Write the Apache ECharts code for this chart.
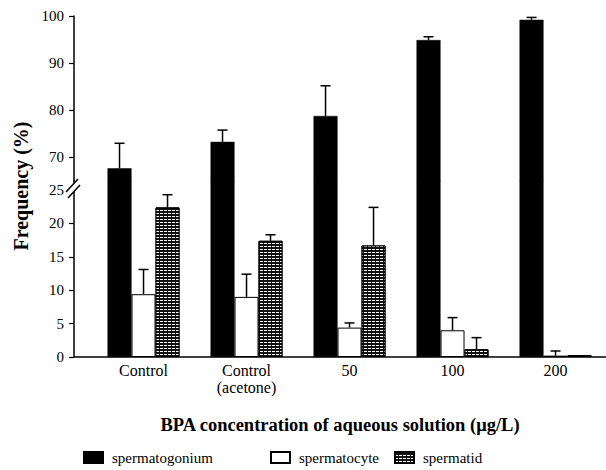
<!DOCTYPE html>
<html>
<head>
<meta charset="utf-8">
<script src="https://cdn.jsdelivr.net/npm/echarts@6/dist/echarts.min.js"></script>
<style>
html,body{margin:0;padding:0;background:#fff;}
#chart{width:606px;height:470px;}
</style>
</head>
<body>
<div id="chart"></div>
<script>
// ---- data ----
const categories = ['Control', 'Control\n(acetone)', '50', '100', '200'];
const seriesNames = ['spermatogonium', 'spermatocyte', 'spermatid'];
const spermatogonium = [67.7, 73.3, 78.8, 94.9, 99.2];
const spermatogoniumErr = [5.3, 2.5, 6.4, 0.7, 0.5];
const spermatocyte = [9.4, 9.0, 4.4, 4.0, 0.2];
const spermatocyteErr = [3.7, 3.4, 0.7, 1.9, 0.7];
const spermatid = [22.4, 17.4, 16.7, 1.15, 0.3];
const spermatidErr = [1.9, 0.9, 5.7, 1.75, 0];
const yTicksUpper = [70, 80, 90, 100];
const yTicksLower = [0, 5, 10, 15, 20, 25];
const xTitle = 'BPA concentration of aqueous solution (\u03bcg/L)';
const yTitle = 'Frequency (%)';

// ---- layout constants ----
const FONT = 'Liberation Serif, Times New Roman, serif';
const BAR_W = 24;
const X_MIN = -0.675, X_MAX = 4.49;
const UPPER_MIN = 65, UPPER_MAX = 100;
const LOWER_MIN = 0, LOWER_MAX = 26.35;

const chart = echarts.init(document.getElementById('chart'), null, {renderer: 'svg'});

const idx = categories.map((c, i) => i);
const pairs = arr => arr.map((v, i) => [i, v]);
const triples = (arr, err) => arr.map((v, i) => [i, v, err[i]]);

function errRender(offset) {
  return function (params, api) {
    const x = api.value(0), v = api.value(1), e = api.value(2);
    if (!e) return null;
    const p0 = api.coord([x, v]);
    const p1 = api.coord([x, v + e]);
    const cx = p0[0] + offset;
    const st = {stroke: '#000', lineWidth: 1.5};
    return {
      type: 'group',
      children: [
        {type: 'line', shape: {x1: cx, y1: p0[1], x2: cx, y2: p1[1]}, style: st},
        {type: 'line', shape: {x1: cx - 5, y1: p1[1], x2: cx + 5, y2: p1[1]}, style: st}
      ]
    };
  };
}

const blackStyle = {color: '#000', borderColor: '#000', borderWidth: 0.5};
const whiteStyle = {color: '#fff', borderColor: '#000', borderWidth: 1};
const stripeStyle = {
  color: '#111', borderColor: '#000', borderWidth: 1,
  decal: {symbol: 'rect', color: '#ffffff', dashArrayX: [[3, 1]], dashArrayY: [1, 2], symbolSize: 1, rotation: 0}
};

const labelStyle = {color: '#000', fontFamily: FONT, fontSize: 15};

const xAxisBase = {
  type: 'value', min: X_MIN, max: X_MAX,
  splitLine: {show: false}
};

const option = {
  animation: false,
  backgroundColor: '#fff',
  textStyle: {fontFamily: FONT},
  grid: [
    {left: 74, right: 0, top: 181, height: 176},   // lower (0-25)
    {left: 74, right: 0, top: 16, height: 165}     // upper (65-100)
  ],
  xAxis: [
    Object.assign({}, xAxisBase, {
      gridIndex: 0,
      axisLine: {show: true, onZero: false, lineStyle: {color: '#000', width: 1.5}},
      axisTick: {show: false},
      axisLabel: {
        customValues: idx,
        formatter: v => categories[Math.round(v)],
        color: '#000', fontFamily: FONT, fontSize: 16, lineHeight: 17, margin: 5
      },
      name: xTitle,
      nameLocation: 'middle',
      nameGap: 58,
      nameTextStyle: {color: '#000', fontFamily: FONT, fontSize: 18.5, fontWeight: 'bold'}
    }),
    Object.assign({}, xAxisBase, {
      gridIndex: 1, show: false, axisLine: {onZero: false}
    })
  ],
  yAxis: [
    {
      type: 'value', gridIndex: 0, min: LOWER_MIN, max: LOWER_MAX,
      splitLine: {show: false},
      axisLine: {show: true, onZero: false, lineStyle: {color: '#000', width: 1.5}},
      axisTick: {show: true, customValues: yTicksLower, length: 5, lineStyle: {color: '#000', width: 1.2}},
      axisLabel: Object.assign({customValues: yTicksLower, margin: 10}, labelStyle)
    },
    {
      type: 'value', gridIndex: 1, min: UPPER_MIN, max: UPPER_MAX,
      splitLine: {show: false},
      axisLine: {show: true, onZero: false, lineStyle: {color: '#000', width: 1.5}},
      axisTick: {show: true, customValues: yTicksUpper, length: 5, lineStyle: {color: '#000', width: 1.2}},
      axisLabel: Object.assign({customValues: yTicksUpper, margin: 10}, labelStyle)
    }
  ],
  legend: [
    {data: [seriesNames[0]], left: 83, top: 450},
    {data: [seriesNames[1]], left: 270, top: 450},
    {data: [seriesNames[2]], left: 394, top: 450}
  ].map(l => Object.assign(l, {
    icon: 'rect', itemWidth: 19, itemHeight: 11, itemGap: 0, padding: 0,
    textStyle: {color: '#000', fontFamily: FONT, fontSize: 15, padding: [0, 0, 0, 4]},
    selectedMode: false
  })),
  series: [
    // lower grid bars
    {type: 'bar', name: seriesNames[0], xAxisIndex: 0, yAxisIndex: 0, data: pairs(spermatogonium),
      barWidth: BAR_W, barGap: '0%', clip: true, itemStyle: blackStyle},
    {type: 'bar', name: seriesNames[1], xAxisIndex: 0, yAxisIndex: 0, data: pairs(spermatocyte),
      barWidth: BAR_W, barGap: '0%', clip: true, itemStyle: whiteStyle},
    {type: 'bar', name: seriesNames[2], xAxisIndex: 0, yAxisIndex: 0, data: pairs(spermatid),
      barWidth: BAR_W, barGap: '0%', clip: true, itemStyle: stripeStyle},
    // upper grid bars (spermatogonium continues above the break)
    {type: 'bar', name: seriesNames[0], xAxisIndex: 1, yAxisIndex: 1, data: pairs(spermatogonium),
      barWidth: BAR_W, barGap: '0%', clip: true, itemStyle: blackStyle},
    {type: 'bar', name: '_pad1', xAxisIndex: 1, yAxisIndex: 1, data: [], barWidth: BAR_W, barGap: '0%'},
    {type: 'bar', name: '_pad2', xAxisIndex: 1, yAxisIndex: 1, data: [], barWidth: BAR_W, barGap: '0%'},
    // error bars
    {type: 'custom', name: 'err0', xAxisIndex: 1, yAxisIndex: 1, z: 5,
      data: triples(spermatogonium, spermatogoniumErr), encode: {x: 0, y: 1}, renderItem: errRender(-BAR_W)},
    {type: 'custom', name: 'err1', xAxisIndex: 0, yAxisIndex: 0, z: 5,
      data: triples(spermatocyte, spermatocyteErr), encode: {x: 0, y: 1}, renderItem: errRender(0)},
    {type: 'custom', name: 'err2', xAxisIndex: 0, yAxisIndex: 0, z: 5,
      data: triples(spermatid, spermatidErr), encode: {x: 0, y: 1}, renderItem: errRender(BAR_W)}
  ],
  graphic: [
    {
      type: 'text', x: 21, y: 186, rotation: Math.PI / 2, z: 10,
      style: {text: yTitle, fill: '#000', fontFamily: FONT, fontSize: 20, fontWeight: 'bold',
        align: 'center', verticalAlign: 'middle'}
    },
    // axis break marks
    {type: 'polygon', z: 20, shape: {points: [[66, 193], [78, 179], [80, 185], [68, 199]]},
      style: {fill: '#fff', stroke: null}},
    {type: 'line', z: 21, shape: {x1: 66, y1: 192, x2: 78, y2: 179}, style: {stroke: '#000', lineWidth: 1.5}},
    {type: 'line', z: 21, shape: {x1: 68, y1: 198, x2: 80, y2: 185}, style: {stroke: '#000', lineWidth: 1.5}}
  ]
};

chart.setOption(option);
</script>
</body>
</html>
